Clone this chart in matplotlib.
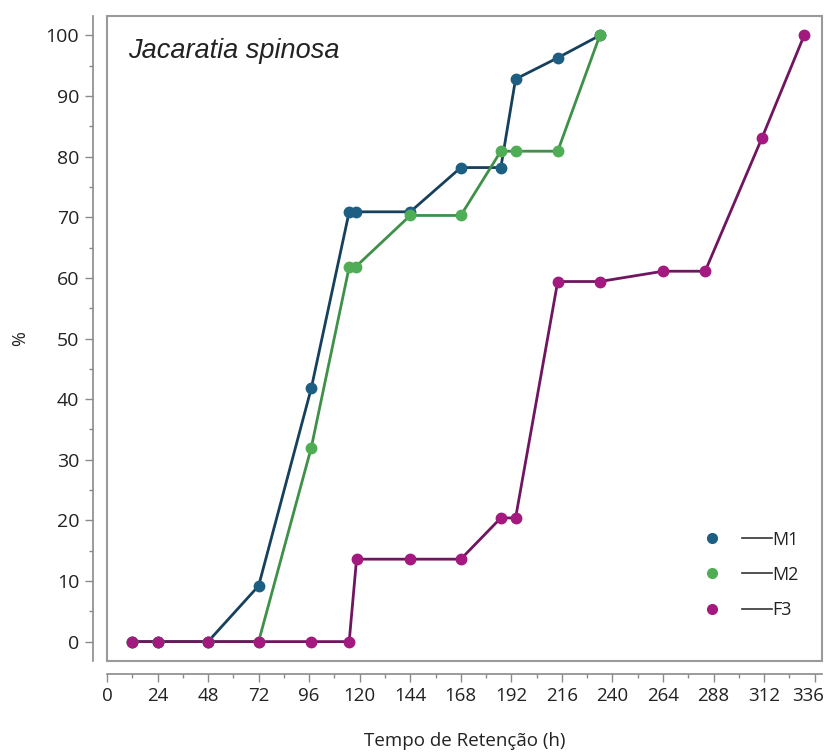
import matplotlib
matplotlib.use('Agg')
import matplotlib.pyplot as plt
from matplotlib.lines import Line2D
from matplotlib.patches import Rectangle
from matplotlib.legend_handler import HandlerTuple
from matplotlib.ticker import MultipleLocator
from matplotlib.transforms import ScaledTranslation

plt.rcParams['font.family'] = ['Open Sans', 'DejaVu Sans']

# retention time (h) and cumulative % per animal
t_m = [12, 24, 48, 72, 97, 115, 118, 144, 168, 187, 194, 214, 234]
m1 = [0, 0, 0, 9.2, 41.8, 70.9, 70.9, 70.9, 78.2, 78.2, 92.8, 96.3, 100]
m2 = [0, 0, 0, 0, 32.0, 61.8, 61.8, 70.3, 70.3, 80.9, 80.9, 80.9, 100]

t_f = [12, 24, 48, 72, 97, 115, 118.5, 144, 168, 187, 194, 214, 234, 264, 284, 311, 331]
f3 = [0, 0, 0, 0, 0, 0, 13.6, 13.6, 13.6, 20.4, 20.4, 59.4, 59.4, 61.1, 61.1, 83.1, 100]

x_ticks = list(range(0, 337, 24))

series = [
    ('M1', t_m, m1, '#1d5f82', '#17405c'),
    ('M2', t_m, m2, '#4fae55', '#3f9048'),
    ('F3', t_f, f3, '#a3197f', '#701560'),
]

fig = plt.figure(figsize=(8.26, 7.52), dpi=100)
ax = fig.add_axes([0.1295, 0.121, 0.8657, 0.8577])

handles = []
for name, x, y, mcol, lcol in series:
    ax.plot(x, y, color=lcol, lw=2, zorder=2)
    ax.plot(x, y, ls='none', marker='o', ms=7.5, color=mcol, zorder=3)
    dot = Line2D([], [], ls='none', marker='o', ms=7, color=mcol)
    seg = Line2D([], [], color='#333333', lw=1.2)
    handles.append((dot, seg))

ax.set_xlim(0, 339.5)
ax.set_ylim(-3.2, 103.2)

# gray frame around plot area, axes lines pushed outward (JMP look)
ax.add_patch(Rectangle((0, 0), 1, 1, transform=ax.transAxes, fill=False,
                       edgecolor='#9a9a9a', lw=1.5, clip_on=False, zorder=5))
for s in ['top', 'right']:
    ax.spines[s].set_visible(False)
ax.spines['left'].set_position(('outward', 10))
ax.spines['bottom'].set_position(('outward', 9.4))
for s in ['left', 'bottom']:
    ax.spines[s].set_color('#8a8a8a')
    ax.spines[s].set_linewidth(1.2)

ax.set_xticks(x_ticks)
ax.xaxis.set_minor_locator(MultipleLocator(12))
ax.yaxis.set_major_locator(MultipleLocator(10))
ax.yaxis.set_minor_locator(MultipleLocator(5))
ax.tick_params(which='major', length=6, width=1, color='#8a8a8a', labelcolor='#222222')
ax.tick_params(which='minor', length=3, width=1, color='#8a8a8a')
ax.tick_params(axis='y', labelsize=14, pad=4)
ax.tick_params(axis='x', labelsize=13.5, pad=3)

# last x label nudged left so it stays inside the picture
last = ax.xaxis.get_major_ticks()[-1].label1
last.set_transform(last.get_transform() + ScaledTranslation(-7 / 100, 0, fig.dpi_scale_trans))

ax.set_xlabel('Tempo de Retenção (h)', fontsize=13.5, color='#222222', labelpad=20)
ax.set_ylabel('%', fontsize=13, color='#222222', labelpad=12)

ax.text(0.03, 0.945, 'Jacaratia spinosa', transform=ax.transAxes, fontsize=19.5,
        style='italic', family='Liberation Sans', color='#222222', va='center')

ax.legend(handles=handles, labels=[s[0] for s in series],
          handler_map={tuple: HandlerTuple(ndivide=None, pad=0.8)},
          loc='lower right', bbox_to_anchor=(0.99, 0.04), frameon=False,
          handlelength=4.2, handletextpad=0.0, labelspacing=0.95, fontsize=13,
          labelcolor='#222222')

plt.savefig('out.png', dpi=100)
plt.close()
